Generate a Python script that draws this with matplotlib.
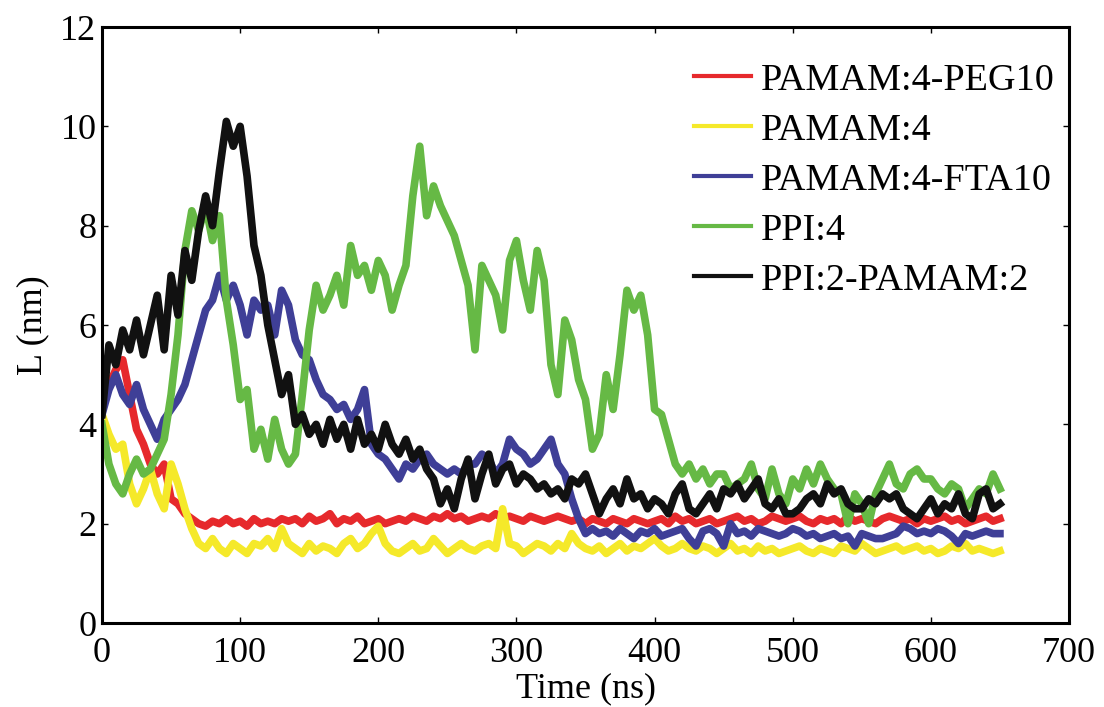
import matplotlib
matplotlib.use('Agg')
import matplotlib.pyplot as plt
import numpy as np

# time axis (ns), sampled every 5 ns
time_ns = np.arange(0, 655, 5)

peg10 = [4.3, 4.8, 5.1, 5.3, 4.6, 3.9, 3.6, 3.2, 3.0, 3.2,
         2.5, 2.4, 2.2, 2.1, 2.0, 1.95, 2.05, 2.0, 2.1, 2.0,
         2.05, 1.95, 2.1, 2.0, 2.05, 2.0, 2.1, 2.05, 2.1, 2.0,
         2.15, 2.05, 2.1, 2.2, 2.0, 2.1, 2.05, 2.15, 2.0, 2.05,
         2.1, 2.0, 2.05, 2.1, 2.05, 2.15, 2.1, 2.05, 2.15, 2.1,
         2.2, 2.1, 2.15, 2.05, 2.1, 2.15, 2.1, 2.2, 2.1, 2.15,
         2.1, 2.05, 2.15, 2.1, 2.05, 2.1, 2.15, 2.1, 2.05, 2.1,
         2.0, 2.1, 2.05, 2.0, 2.1, 2.05, 2.0, 2.1, 2.05, 2.0,
         2.05, 2.1, 2.0, 2.15, 2.05, 2.1, 2.0, 2.05, 2.1, 2.0,
         2.05, 2.1, 2.15, 2.05, 2.1, 2.0, 2.05, 2.15, 2.1, 2.05,
         2.1, 2.15, 2.05, 2.0, 2.1, 2.05, 2.1, 2.0, 2.15, 2.05,
         2.1, 2.05, 2.0, 2.1, 2.15, 2.1, 2.05, 2.1, 2.0, 2.1,
         2.05, 2.1, 2.15, 2.05, 2.1, 2.0, 2.05, 2.1, 2.15, 2.05, 2.1]

pamam4 = [4.2, 3.8, 3.5, 3.6, 2.8, 2.4, 2.7, 3.1, 2.6, 2.3,
          3.2, 2.8, 2.3, 1.9, 1.6, 1.5, 1.7, 1.5, 1.4, 1.6,
          1.5, 1.4, 1.6, 1.55, 1.7, 1.5, 1.9, 1.6, 1.5, 1.4,
          1.6, 1.45, 1.55, 1.5, 1.4, 1.6, 1.7, 1.5, 1.6, 1.8,
          1.95, 1.6, 1.45, 1.4, 1.5, 1.6, 1.45, 1.5, 1.7, 1.55,
          1.4, 1.5, 1.6, 1.5, 1.45, 1.55, 1.6, 1.5, 2.3, 1.6,
          1.55, 1.4, 1.5, 1.6, 1.55, 1.45, 1.6, 1.5, 1.8, 1.6,
          1.5, 1.45, 1.55, 1.4, 1.5, 1.6, 1.45, 1.55, 1.5, 1.6,
          1.7, 1.55, 1.45, 1.5, 1.6, 1.5, 1.45, 1.55, 1.5, 1.4,
          1.5, 1.6, 1.45, 1.5, 1.4, 1.55, 1.45, 1.5, 1.4, 1.45,
          1.5, 1.55, 1.45, 1.4, 1.5, 1.45, 1.4, 1.55, 1.5, 1.45,
          1.6, 1.5, 1.4, 1.45, 1.5, 1.55, 1.45, 1.5, 1.55, 1.45,
          1.5, 1.4, 1.45, 1.55, 1.5, 1.6, 1.45, 1.5, 1.45, 1.4, 1.45]

fta10 = [4.2, 4.7, 5.0, 4.6, 4.4, 4.8, 4.3, 4.0, 3.7, 4.1,
         4.3, 4.5, 4.8, 5.3, 5.8, 6.3, 6.5, 7.0, 6.5, 6.8,
         6.4, 5.8, 6.5, 6.3, 6.4, 5.8, 6.7, 6.4, 5.7, 5.4,
         5.3, 4.9, 4.6, 4.5, 4.3, 4.4, 4.1, 4.3, 4.7, 3.6,
         3.4, 3.3, 3.1, 2.9, 3.2, 3.1, 3.3, 3.4, 3.2, 3.1,
         3.0, 3.1, 3.0, 3.2, 3.2, 3.4, 3.3, 3.0, 3.2, 3.7,
         3.5, 3.4, 3.2, 3.3, 3.5, 3.7, 3.2, 3.0, 2.5, 2.1,
         1.8, 1.9, 1.8, 1.85, 1.75, 1.9, 1.8, 1.7, 1.85, 1.8,
         1.9, 1.75, 1.8, 1.85, 1.9, 1.7, 1.55, 1.85, 1.9, 1.8,
         1.55, 2.0, 1.8, 1.85, 1.75, 1.9, 1.85, 1.8, 1.75, 1.8,
         1.9, 1.85, 1.75, 1.8, 1.7, 1.75, 1.8, 1.7, 1.75, 1.55,
         1.8, 1.75, 1.7, 1.7, 1.75, 1.8, 1.95, 1.9, 1.8, 1.85,
         1.8, 1.9, 1.85, 1.75, 1.6, 1.8, 1.75, 1.8, 1.85, 1.8, 1.8]

ppi4 = [4.0, 3.2, 2.8, 2.6, 3.0, 3.3, 3.0, 3.1, 3.4, 3.7,
        4.6, 5.8, 7.5, 8.3, 7.9, 8.4, 7.7, 8.2, 6.5, 5.6,
        4.5, 4.7, 3.5, 3.9, 3.3, 4.1, 3.5, 3.2, 3.4, 4.6,
        5.9, 6.8, 6.3, 6.6, 7.0, 6.4, 7.6, 7.0, 7.2, 6.7,
        7.3, 7.0, 6.3, 6.8, 7.2, 8.6, 9.6, 8.2, 8.8, 8.4,
        8.1, 7.8, 7.3, 6.8, 5.5, 7.2, 6.9, 6.6, 5.9, 7.3,
        7.7, 6.9, 6.3, 7.5, 6.9, 5.2, 4.6, 6.1, 5.7, 4.9,
        4.5, 3.5, 3.8, 5.0, 4.3, 5.4, 6.7, 6.3, 6.6, 5.8,
        4.3, 4.2, 3.7, 3.2, 3.0, 3.2, 2.9, 3.1, 2.8, 3.0,
        3.0, 2.7, 2.8, 2.9, 3.2, 2.7, 2.5, 3.1, 2.6, 2.4,
        2.9, 2.7, 3.1, 2.8, 3.2, 2.9, 2.7, 2.6, 2.0, 2.6,
        2.4, 2.0, 2.6, 2.9, 3.2, 2.8, 2.7, 3.0, 3.1, 2.9,
        2.9, 2.7, 2.6, 2.8, 2.7, 2.3, 2.5, 2.7, 2.6, 3.0, 2.7]

ppi2_pamam2 = [4.2, 5.6, 5.2, 5.9, 5.5, 6.1, 5.4, 6.0, 6.6, 5.5,
               7.0, 6.2, 7.5, 6.9, 7.9, 8.6, 8.0, 9.1, 10.1, 9.6,
               10.0, 9.0, 7.6, 7.0, 6.0, 5.3, 4.6, 5.0, 4.0, 4.2,
               3.8, 4.0, 3.6, 4.1, 3.7, 4.0, 3.5, 4.1, 3.6, 3.8,
               3.5, 4.0, 3.6, 3.4, 3.7, 3.3, 3.5, 3.1, 2.9, 2.4,
               2.7, 2.3, 2.9, 3.3, 2.5, 3.0, 3.4, 2.8, 3.1, 3.2,
               2.8, 3.0, 2.9, 2.7, 2.8, 2.6, 2.7, 2.5, 2.9, 2.8,
               3.0, 2.6, 2.2, 2.5, 2.7, 2.4, 2.9, 2.5, 2.6, 2.3,
               2.5, 2.4, 2.2, 2.6, 2.8, 2.3, 2.2, 2.4, 2.6, 2.3,
               2.7, 2.6, 2.8, 2.5, 2.7, 2.9, 2.4, 2.3, 2.5, 2.2,
               2.2, 2.3, 2.5, 2.6, 2.4, 2.8, 2.6, 2.7, 2.4, 2.3,
               2.3, 2.5, 2.4, 2.6, 2.5, 2.6, 2.3, 2.2, 2.1, 2.3,
               2.5, 2.2, 2.4, 2.3, 2.6, 2.2, 2.1, 2.6, 2.7, 2.3, 2.4]

labels = ['PAMAM:4-PEG10', 'PAMAM:4', 'PAMAM:4-FTA10', 'PPI:4', 'PPI:2-PAMAM:2']
colors = ['#e6292c', '#f5e92a', '#3f3f97', '#66b945', '#111111']

plt.rcParams['font.family'] = 'Liberation Serif'
plt.rcParams['font.size'] = 26

fig = plt.figure(figsize=(11.04, 7.07), dpi=100)
ax = fig.add_axes([0.0924, 0.1188, 0.8759, 0.843])

for vals, lab, c in zip([peg10, pamam4, fta10, ppi4, ppi2_pamam2], labels, colors):
    ax.plot(time_ns, vals, color=c, lw=5.5, label=lab, solid_joinstyle='round')

ax.set_xlim(0, 700)
ax.set_ylim(0, 12)
ax.set_xticks(range(0, 701, 100))
ax.set_yticks(range(0, 13, 2))
ax.tick_params(direction='in', length=4, width=1, top=True, right=True)
ax.tick_params(axis='x', pad=10)
ax.tick_params(axis='y', pad=4)
for s in ax.spines.values():
    s.set_linewidth(2.2)

ax.set_xlabel('Time (ns)', labelpad=2)
ax.set_ylabel('L (nm)', labelpad=8)

leg = ax.legend(loc='upper left', bbox_to_anchor=(0.612, 0.94), frameon=False,
                fontsize=27.5, handlelength=1.5, handletextpad=0.25,
                labelspacing=0.4, borderpad=0, borderaxespad=0)
for line in leg.get_lines():
    line.set_linewidth(3)

fig.savefig('out.png', dpi=100)
